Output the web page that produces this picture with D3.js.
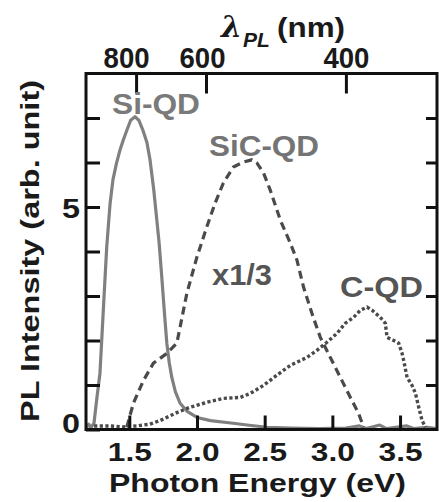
<!DOCTYPE html>
<html><head><meta charset="utf-8">
<script src="https://cdn.jsdelivr.net/npm/d3@7"></script>
<style>body{margin:0;background:#fff}svg{display:block}text{font-family:"Liberation Sans",Arial,sans-serif;font-weight:bold}</style>
</head><body><svg id="c" width="439" height="502"></svg>
<script>
// ---------- data ----------
const siEnergy    = [1.18,1.20,1.215,1.23,1.239,1.26,1.283,1.31,1.333,1.357,1.379,1.405,1.431,1.455,1.481,1.51,1.542,1.57,1.601,1.63,1.653,1.68,1.703,1.72,1.74,1.76,1.777,1.795,1.814,1.84,1.875,1.93,2.0,2.1,2.267,2.4,2.518,2.7,2.9,3.1,3.2,3.25,3.35,3.4,3.55,3.6,3.7,3.77];
const siIntensity = [0.04,0.12,0.04,0.10,0.14,0.7,1.26,2.8,4.1,5.05,5.61,5.98,6.28,6.5,6.72,6.95,7.03,6.95,6.72,6.45,6.06,5.4,4.71,4.2,3.42,2.6,1.94,1.5,1.17,0.85,0.59,0.40,0.27,0.2,0.14,0.09,0.05,0.03,0.02,0.03,0.08,0.02,0.1,0.02,0.08,0.02,0.05,0.02];

const sicEnergy    = [1.481,1.53,1.604,1.678,1.777,1.851,1.875,1.925,1.999,2.072,2.134,2.195,2.269,2.343,2.405,2.442,2.491,2.541,2.615,2.689,2.738,2.787,2.849,2.911,2.985,3.059,3.133,3.194,3.231];
const sicIntensity = [0.05,0.59,1.10,1.49,1.71,1.94,2.30,3.06,3.87,4.55,5.09,5.54,5.90,6.01,6.06,5.99,5.77,5.38,4.71,4.19,3.81,3.20,2.61,2.07,1.62,1.17,0.72,0.36,0.05];

const cEnergy    = [1.24,1.35,1.45,1.555,1.65,1.727,1.851,1.949,2.072,2.195,2.319,2.393,2.491,2.59,2.689,2.812,2.886,2.96,3.034,3.096,3.157,3.207,3.256,3.293,3.354,3.391,3.404,3.453,3.49,3.515,3.527,3.552,3.589,3.614,3.638,3.663,3.688];
const cIntensity = [0.08,0.08,0.06,0.08,0.12,0.20,0.38,0.50,0.61,0.70,0.72,0.81,0.99,1.22,1.44,1.62,1.78,1.96,2.16,2.39,2.52,2.68,2.75,2.68,2.52,2.39,2.07,2.00,1.94,1.71,1.55,1.17,0.99,0.81,0.50,0.20,0.05];

const xTicks = [1.5, 2.0, 2.5, 3.0, 3.5];
const yTicks = [0, 1, 2, 3, 4, 5, 6, 7];
const yTickLabels = [0, 5];
const wavelengthTicks = [800, 600, 400];

// ---------- layout ----------
const svg = d3.select("#c");
const L = 86, R = 437, T = 73.5, B = 429.5;
const x = d3.scaleLinear().domain([1.18, 3.773]).range([L, R]);
const y = d3.scaleLinear().domain([0, 8]).range([B, T]);

function fitW(sel, w) {
  sel.attr("textLength", w).attr("lengthAdjust", "spacingAndGlyphs");
}

const line = d3.line().x(d => x(d[0])).y(d => y(d[1]));

// curves
svg.append("path").datum(d3.zip(siEnergy, siIntensity)).attr("d", line)
  .attr("fill", "none").attr("stroke", "#808080").attr("stroke-width", 3.2).attr("stroke-linejoin", "round");
svg.append("path").datum(d3.zip(sicEnergy, sicIntensity)).attr("d", line)
  .attr("fill", "none").attr("stroke", "#4a4a4a").attr("stroke-width", 3.2).attr("stroke-dasharray", "8,5");
svg.append("path").datum(d3.zip(cEnergy, cIntensity)).attr("d", line)
  .attr("fill", "none").attr("stroke", "#4a4a4a").attr("stroke-width", 3.4).attr("stroke-dasharray", "3.2,2.4");

// axes
const gB = svg.append("g").attr("transform", `translate(0,${B})`)
  .call(d3.axisBottom(x).tickValues(xTicks).tickSize(-14).tickSizeOuter(0).tickFormat(d3.format(".1f")));
gB.selectAll("text").attr("y", 31.5).attr("dy", null).attr("font-size", 25).attr("fill", "#1a1a1a");
fitW(gB.selectAll("text"), 44);

const gL = svg.append("g").attr("transform", `translate(${L},0)`)
  .call(d3.axisLeft(y).tickValues(yTicks).tickSize(-14).tickSizeOuter(0)
    .tickFormat(d => yTickLabels.includes(d) ? d : ""));
gL.selectAll("text").attr("x", -6).attr("dy", d => d === 0 ? "0.1em" : "0.36em").attr("font-size", 28).attr("fill", "#1a1a1a");
fitW(gL.selectAll("text").filter(d => yTickLabels.includes(d)), 18);

svg.append("g").attr("transform", `translate(${R},0)`)
  .call(d3.axisRight(y).tickValues(yTicks.slice(1)).tickSize(-11).tickSizeOuter(0).tickFormat(""));

const topNudge = {800: -10, 600: -4, 400: 0};
const gT = svg.append("g").attr("transform", `translate(0,${T})`)
  .call(d3.axisTop(x).tickValues(wavelengthTicks.map(l => 1240 / l)).tickSize(-20).tickSizeOuter(0)
    .tickFormat((d, i) => wavelengthTicks[i]));
gT.selectAll("text").attr("y", -5.5).attr("dy", null).attr("font-size", 29).attr("fill", "#1a1a1a")
  .attr("x", (d, i) => topNudge[wavelengthTicks[i]]);
fitW(gT.selectAll("text"), 46);

svg.selectAll(".domain").remove();
svg.selectAll(".tick line").attr("stroke", "#111").attr("stroke-width", 3);

// frame
svg.append("rect").attr("x", L).attr("y", T).attr("width", R - L).attr("height", B - T)
  .attr("fill", "none").attr("stroke", "#111").attr("stroke-width", 3);

// axis titles
const xt = svg.append("text").attr("x", 257.5).attr("y", 492).attr("text-anchor", "middle")
  .attr("font-size", 26.5).attr("fill", "#1a1a1a").text("Photon Energy (eV)");
fitW(xt, 297);

const yt = svg.append("text").attr("transform", "translate(39,251) rotate(-90)").attr("text-anchor", "middle")
  .attr("font-size", 26.5).attr("fill", "#1a1a1a").text("PL Intensity (arb. unit)");
fitW(yt, 342);

const g0 = svg.append("g").attr("fill", "#1a1a1a");
g0.append("text").attr("x", 221).attr("y", 37).attr("font-size", 30).attr("font-style", "italic")
  .attr("font-weight", "normal").style("font-family", "'DejaVu Serif',serif").text("λ");
g0.append("text").attr("x", 243).attr("y", 47).attr("font-size", 21).attr("font-style", "italic").text("PL");
fitW(g0.append("text").attr("x", 277).attr("y", 37).attr("font-size", 28).text("(nm)"), 68);

// series labels
const labels = [
  {t: "Si-QD", x: 112, y: 114, w: 88, c: "#7a7a7a"},
  {t: "SiC-QD", x: 209, y: 156, w: 110, c: "#747474"},
  {t: "x1/3", x: 212, y: 285, w: 60, c: "#555"},
  {t: "C-QD", x: 340, y: 297, w: 83, c: "#555"}
];
svg.selectAll(".lab").data(labels).join("text").attr("class", "lab")
  .attr("x", d => d.x).attr("y", d => d.y).attr("font-size", 29).attr("fill", d => d.c)
  .attr("textLength", d => d.w).attr("lengthAdjust", "spacingAndGlyphs").text(d => d.t);
</script></body></html>
